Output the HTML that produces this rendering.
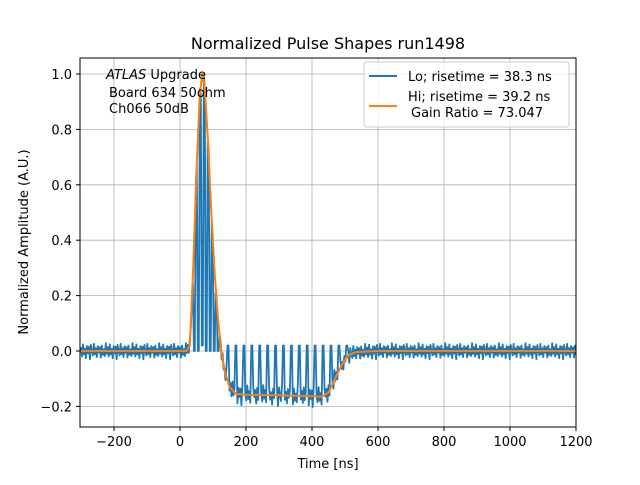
<!DOCTYPE html>
<html><head><meta charset="utf-8"><style>
body{margin:0;background:#fff}
svg{font-family:"DejaVu Sans","Liberation Sans",sans-serif}
</style></head><body>
<svg id="chart" width="640" height="480" viewBox="0 0 640 480">
<rect width="640" height="480" fill="#fff"/>
<g id="grid"></g>
<defs><clipPath id="pc"><rect x="80" y="58" width="496" height="369"/></clipPath></defs>
<g id="series" clip-path="url(#pc)"></g>
<rect x="80" y="58" width="496" height="369" fill="none" stroke="#000" stroke-width="1"/>
<g id="ticks" font-size="13"></g>
<text x="328" y="49" text-anchor="middle" font-size="16">Normalized Pulse Shapes run1498</text>
<text x="328" y="468" text-anchor="middle" font-size="13">Time [ns]</text>
<text transform="translate(28,242) rotate(-90)" text-anchor="middle" font-size="13">Normalized Amplitude (A.U.)</text>
<g font-size="13">
<text x="106" y="79"><tspan font-style="italic">ATLAS</tspan> Upgrade</text>
<text x="109" y="97">Board 634 50ohm</text>
<text x="109" y="113">Ch066 50dB</text>
</g>
<g>
<rect x="364" y="62" width="205" height="65" rx="3" fill="#fff" fill-opacity="0.8" stroke="#ccc"/>
<line x1="369" y1="76" x2="397" y2="76" stroke="#1f77b4" stroke-width="2"/>
<text x="408" y="81" font-size="13">Lo; risetime = 38.3 ns</text>
<line x1="369" y1="106" x2="397" y2="106" stroke="#ff7f0e" stroke-width="2"/>
<text x="408" y="101" font-size="13">Hi; risetime = 39.2 ns</text>
<text x="411" y="117" font-size="13">Gain Ratio = 73.047</text>
</g>
</svg>
<script>
const xTicks=[-200,0,200,400,600,800,1000,1200];
const yTicks=[-0.2,0.0,0.2,0.4,0.6,0.8,1.0];
const hiT=[-300,20,30,40,50,60,68,75,85,95,105,115,125,135,150,170,200,300,400,430,450,470,490,510,530,560,600,1200];
const hiV=[0,0,0.02,0.3,0.65,0.93,1.0,0.95,0.75,0.5,0.28,0.12,0.0,-0.07,-0.13,-0.155,-0.158,-0.16,-0.163,-0.165,-0.15,-0.1,-0.05,-0.015,-0.005,-0.002,0,0];
const noise=[0.014,-0.02,0.024,-0.012,0.008,-0.026,0.018,-0.008,0.016,-0.03,0.022,0.0,-0.016,0.026,-0.012,0.01,-0.022,0.018,-0.006,0.014,-0.024,0.02,-0.014,0.006,-0.018,0.028,-0.01];
const spikeT=[42,54,66,78,90,102,114,144,168,192,216,240,264,288,312,336,360,384,408,432,456,480,504];
const spikeV=[0.0,0.0,0.02,0.0,0.0,0.0,0.0,0.02,0.02,0.02,0.02,0.02,0.02,0.02,0.02,0.02,0.02,0.02,0.02,0.02,0.02,0.02,0.02];
const X=v=>180+v*0.33, Y=v=>351-v*277;
const NS='http://www.w3.org/2000/svg';
const g=document.getElementById('grid'),tk=document.getElementById('ticks'),se=document.getElementById('series');
function mk(p,tag,a){const e=document.createElementNS(NS,tag);for(const k in a)e.setAttribute(k,a[k]);p.appendChild(e);return e;}
function hiAt(t){for(let i=1;i<hiT.length;i++){if(t<=hiT[i]){const f=(t-hiT[i-1])/(hiT[i]-hiT[i-1]);return hiV[i-1]+f*(hiV[i]-hiV[i-1]);}}return 0;}
xTicks.forEach(t=>{const x=X(t);
 const l=mk(g,'line',{x1:x,x2:x,y1:58,y2:427,stroke:'#b0b0b0','stroke-width':0.8});
 
 
 mk(tk,'line',{x1:x,x2:x,y1:427,y2:431,stroke:'#000'});
 const s=mk(tk,'text',{x:x,y:446,'text-anchor':'middle'});s.textContent=t<0?'\u2212'+(-t):t;
 
 });
yTicks.forEach(t=>{const y=Y(t);
 const l=mk(g,'line',{x1:80,x2:576,y1:y,y2:y,stroke:'#b0b0b0','stroke-width':0.8});
 
 
 mk(tk,'line',{x1:76,x2:80,y1:y,y2:y,stroke:'#000'});
 const s=mk(tk,'text',{x:72,y:y+5,'text-anchor':'end'});s.textContent=(t<0?'\u2212':'')+Math.abs(t).toFixed(1);
 
 });
const lo=[];let k=0;
for(let t=-300;t<=1200;t+=3){
 let sp=-1;for(let j=0;j<spikeT.length;j++)if(t>=spikeT[j]-1.5&&t<spikeT[j]+4)sp=j;
 if(sp>=0)lo.push([t,spikeV[sp]]);
 else lo.push([t,hiAt(t)+noise[k++%noise.length]*(t>130&&t<470?1.3:1)]);
}
const pl=mk(se,'path',{d:'M'+lo.map(p=>X(p[0]).toFixed(1)+','+Y(p[1]).toFixed(1)).join('L'),fill:'none',stroke:'#1f77b4','stroke-width':1.8,'stroke-linejoin':'round'});


const ph=mk(se,'path',{d:'M'+hiT.map((t,i)=>X(t).toFixed(1)+','+Y(hiV[i]).toFixed(1)).join('L'),fill:'none',stroke:'#ff7f0e','stroke-width':2,'stroke-linejoin':'round'});


</script>
</body></html>
